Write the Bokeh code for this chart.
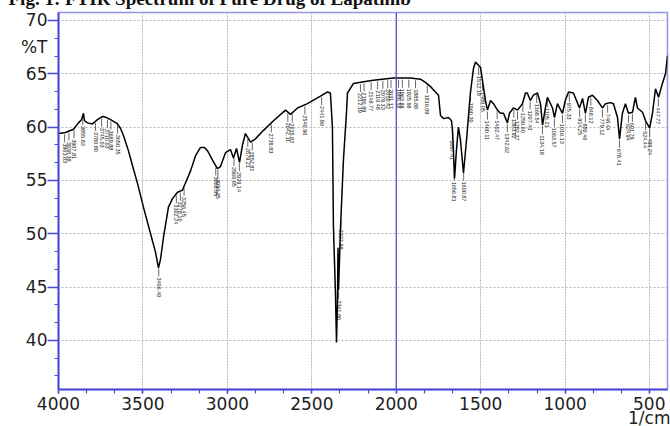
import numpy as np
from bokeh.plotting import figure
from bokeh.models import Range1d, FixedTicker, Span, LinearAxis
from bokeh.embed import file_html
from bokeh.resources import INLINE
from bokeh.core.properties import value

# ---- data ----
wavenumber = [4000, 3959, 3911, 3882, 3864, 3852, 3846, 3828, 3799, 3769, 3740, 3716, 3692, 3669, 3651,
              3633, 3615, 3586, 3562, 3532, 3497, 3455, 3426, 3408, 3396, 3378, 3349, 3325, 3295, 3266,
              3242, 3218, 3189, 3159, 3136, 3118, 3088, 3059, 3041, 3011, 2982, 2964, 2946, 2928, 2911,
              2893, 2863, 2834, 2786, 2727, 2656, 2626, 2585, 2526, 2449, 2407, 2390, 2378, 2372, 2360,
              2354, 2348, 2345, 2342, 2330, 2313, 2295, 2289, 2253, 2212, 2135, 2017, 1916, 1857, 1827,
              1797, 1768, 1750, 1738, 1720, 1691, 1673, 1667, 1655, 1644, 1632, 1620, 1602, 1584, 1561,
              1543, 1531, 1513, 1501, 1490, 1472, 1460, 1442, 1424, 1401, 1383, 1365, 1342, 1330, 1306,
              1282, 1253, 1235, 1224, 1206, 1188, 1164, 1146, 1134, 1117, 1105, 1075, 1063, 1046, 1016,
              999, 980, 951, 933, 915, 897, 880, 862, 838, 809, 779, 761, 732, 714, 690,
              678, 661, 643, 625, 601, 584, 572, 542, 524, 500, 483, 465, 447, 424, 406, 394]
transmittance = [59.4, 59.5, 59.8, 60.4, 60.7, 61.3, 60.6, 60.4, 60.3, 60.7, 61.0, 60.9, 60.7, 60.5, 60.3,
                 59.9, 59.2, 57.8, 56.4, 54.7, 52.5, 50.0, 48.3, 46.8, 47.6, 49.7, 52.5, 53.3, 53.9, 54.1,
                 55.0, 55.9, 57.3, 58.1, 58.1, 57.8, 56.9, 56.1, 56.3, 57.6, 57.9, 57.1, 58.0, 56.7, 58.3,
                 59.4, 58.6, 58.9, 59.7, 60.6, 61.6, 61.2, 61.8, 62.2, 62.9, 63.3, 63.2, 60.0, 50.6, 44.4,
                 39.8, 43.8, 48.7, 44.7, 50.6, 56.9, 61.3, 63.2, 64.1, 64.2, 64.4, 64.6, 64.6, 64.5, 64.2,
                 63.8, 63.3, 63.0, 61.1, 60.8, 60.9, 60.6, 59.7, 55.2, 57.8, 60.0, 58.8, 55.7, 58.8, 63.2,
                 65.5, 66.1, 65.8, 65.6, 64.4, 62.5, 61.6, 62.5, 62.2, 61.6, 61.3, 61.3, 60.4, 61.3, 61.8,
                 61.6, 62.2, 63.2, 63.2, 62.5, 63.0, 63.2, 62.2, 60.2, 61.8, 62.8, 61.8, 60.9, 62.2, 61.3,
                 62.5, 63.3, 63.2, 62.5, 61.8, 62.7, 61.3, 62.8, 63.0, 62.5, 61.8, 62.2, 62.3, 62.2, 60.9,
                 58.9, 61.3, 62.2, 61.3, 61.4, 62.8, 61.8, 61.4, 60.6, 59.9, 61.3, 63.6, 62.8, 64.1, 65.0, 66.7]

peak_labels = [3963.83, 3938.38, 3907.81, 3855.83, 3780.80, 3745.03, 3710.03, 3689.88, 3650.35,
               3406.40, 3302.24, 3278.10, 3256.45, 3068.85, 3056.25, 2960.85, 2929.14, 2879.21,
               2852.81, 2739.83, 2642.11, 2615.82, 2540.96, 2441.96, 2341.86, 2327.88, 2212.19,
               2190.89, 2148.77, 2110.48, 2079.33, 2050.42, 2031.17, 1986.58, 1963.88, 1925.98,
               1885.88, 1816.09, 1667.41, 1656.81, 1600.87, 1560.30, 1512.19, 1489.05, 1460.11,
               1402.47, 1342.62, 1303.92, 1282.27, 1250.60, 1207.43, 1168.54, 1134.18, 1105.21,
               1063.57, 1016.13, 975.33, 914.25, 880.46, 848.12, 779.12, 748.44, 678.41, 624.94,
               601.79, 524.44, 499.24, 447.77]

x_ticks = [4000, 3500, 3000, 2500, 2000, 1500, 1000, 500]
y_ticks = [40, 45, 50, 55, 60, 65, 70]
y_title_pos = 67.5
marker_line = 2000
title_text = "Fig. 1: FTIR Spectrum of Pure Drug of Lapatinib"
y_title = "%T"
x_title = "1/cm"

# ---- figure ----
BT = 34
p = figure(frame_width=609, frame_height=377, x_range=Range1d(4000, 394), y_range=Range1d(35.4, 70.75),
           output_backend="svg", toolbar_location=None,
           min_border_left=58, min_border_right=3, min_border_top=BT, min_border_bottom=37)
p.styles = {"margin-top": f"-{BT - 12}px"}
p.background_fill_color = "white"
p.border_fill_color = "white"
p.outline_line_color = "#9494e8"
p.outline_line_width = 1.5

p.title.text = title_text
p.title.text_font = "Liberation Serif"
p.title.text_font_style = "bold"
p.title.text_font_size = "19px"
p.title.text_color = "#111111"
p.title.align = "left"
p.title.offset = -50
p.title.standoff = 7

x_minor = [4000 - k * 500 / 3 for k in range(22)]
y_minor = [35 + k * 5 / 3 for k in range(22)]
p.xaxis.ticker = FixedTicker(ticks=x_ticks, minor_ticks=x_minor)
p.yaxis.ticker = FixedTicker(ticks=y_ticks, minor_ticks=y_minor)

blue = "#4a4ad8"
lab_color = "#1e1e1e"
for ax in (p.xaxis[0], p.yaxis[0]):
    ax.axis_line_color = blue
    ax.axis_line_width = 2
    ax.major_tick_line_color = blue
    ax.minor_tick_line_color = blue
    ax.major_tick_line_width = 1.5
    ax.minor_tick_line_width = 1.2
    ax.major_label_text_font = "DejaVu Sans"
    ax.major_label_text_font_size = "17px"
    ax.major_label_text_color = lab_color
    ax.major_tick_in = 0
    ax.minor_tick_in = 0

# x axis: unit written under the last tick label
p.xaxis.major_tick_out = 4
p.xaxis.minor_tick_out = 4
p.xaxis.major_label_standoff = 0
p.xaxis.major_label_text_line_height = 0.74
p.xaxis.major_label_overrides = {x_ticks[-1]: f"{x_ticks[-1]}\n{x_title}"}

# y axis: inner axis draws ticks only, outer axis carries the labels and "%T"
p.yaxis.major_tick_out = 11
p.yaxis.minor_tick_out = 4
p.yaxis.major_label_standoff = 3
p.yaxis.major_label_overrides = {t: "" for t in y_ticks}

ylab = LinearAxis(ticker=FixedTicker(ticks=y_ticks + [y_title_pos], minor_ticks=[]),
                  major_label_overrides={y_title_pos: y_title},
                  axis_line_color=None, major_tick_line_color=None, minor_tick_line_color=None,
                  major_tick_out=0, major_tick_in=0, minor_tick_out=0, minor_tick_in=0,
                  major_label_standoff=0, major_label_text_font="DejaVu Sans",
                  major_label_text_font_size="17px", major_label_text_color=lab_color)
p.add_layout(ylab, "left")

p.xgrid.grid_line_color = "#b8b8b8"
p.xgrid.grid_line_dash = "2 1"
p.ygrid.grid_line_color = "#b8b8b8"
p.ygrid.grid_line_dash = "2 2"

p.add_layout(Span(location=marker_line, dimension="height", line_color="#5050dc", line_width=1.3))

# spectrum
p.line(wavenumber, transmittance, line_color="black", line_width=1.5)

# peak labels with short leaders
wn_arr = np.array(wavenumber[::-1], dtype=float)
t_arr = np.array(transmittance[::-1], dtype=float)
pk = np.array(peak_labels)
pt = np.interp(pk, wn_arr, t_arr)
p.segment(x0=pk, y0=pt - 0.15, x1=pk, y1=pt - 0.9, line_color="black", line_width=0.6)
p.text(x=pk, y=pt - 0.9, text=[f"{v:.2f}" for v in peak_labels], angle=-np.pi / 2,
       text_align="left", text_baseline="middle", text_font=value("Liberation Sans"),
       text_font_size="5.5px", text_color="#111111", y_offset=1)

open("out.html", "w").write(file_html(p, INLINE))
